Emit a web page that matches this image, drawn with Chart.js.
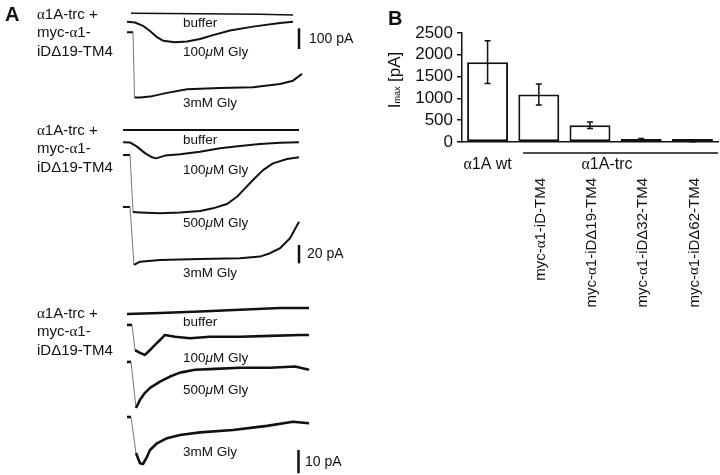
<!DOCTYPE html>
<html>
<head>
<meta charset="utf-8">
<script src="https://cdn.jsdelivr.net/npm/chart.js@4.4.1/dist/chart.umd.min.js"></script>
<style>
body { margin: 0; background: #fff; }
#fig { position: relative; width: 720px; height: 475px; overflow: hidden; font-family: "Liberation Sans", Arial, sans-serif; color: #111; }
canvas { position: absolute; }
.t { position: absolute; white-space: nowrap; transform: translateY(-50%); line-height: 1; }
.panel { font-weight: bold; font-size: 20px; }
.grp { position: absolute; white-space: nowrap; font-size: 15px; line-height: 18.5px; }
.tr { font-size: 13.5px; }
.sb { font-size: 14px; }
.a { font-family: "Liberation Serif", "DejaVu Serif", serif; }
</style>
</head>
<body>
<div id="fig">
  <canvas id="traces1" width="370" height="120" style="left:0;top:0"></canvas>
  <canvas id="traces2" width="370" height="170" style="left:0;top:120px"></canvas>
  <canvas id="traces3" width="370" height="185" style="left:0;top:290px"></canvas>
  <canvas id="chartB" width="340" height="475" style="left:380px;top:0"></canvas>

  <div class="t panel" style="left:5px;top:14px">A</div>
  <div class="t panel" style="left:388px;top:18px">B</div>

  <div class="grp" style="left:37px;top:4.75px"><span class="a">α</span>1A-trc +<br>myc-<span class="a">α</span>1-<br>iDΔ19-TM4</div>
  <div class="grp" style="left:37px;top:120.75px"><span class="a">α</span>1A-trc +<br>myc-<span class="a">α</span>1-<br>iDΔ19-TM4</div>
  <div class="grp" style="left:37px;top:303.75px"><span class="a">α</span>1A-trc +<br>myc-<span class="a">α</span>1-<br>iDΔ19-TM4</div>

  <div class="t tr" style="left:183px;top:23px">buffer</div>
  <div class="t tr" style="left:183px;top:52px">100<i>μ</i>M Gly</div>
  <div class="t tr" style="left:183px;top:103px">3mM Gly</div>

  <div class="t tr" style="left:183px;top:140px">buffer</div>
  <div class="t tr" style="left:183px;top:170px">100<i>μ</i>M Gly</div>
  <div class="t tr" style="left:183px;top:223px">500<i>μ</i>M Gly</div>
  <div class="t tr" style="left:183px;top:273px">3mM Gly</div>

  <div class="t tr" style="left:183px;top:322px">buffer</div>
  <div class="t tr" style="left:183px;top:358px">100<i>μ</i>M Gly</div>
  <div class="t tr" style="left:183px;top:390px">500<i>μ</i>M Gly</div>
  <div class="t tr" style="left:183px;top:452px">3mM Gly</div>

  <div class="t sb" style="left:309px;top:38px">100 pA</div>
  <div class="t sb" style="left:307px;top:253px">20 pA</div>
  <div class="t sb" style="left:305px;top:461px">10 pA</div>
</div>

<script>
// --- Panel A: tracce (tempo in s, corrente in pA) ---

// gruppo 1
const g1BufferT = [0.4, 7.3, 13.3, 16.6];
const g1BufferI = [3.4, 1.4, -1.4, -4.8];
const g1Gly100T = [0, 0.8, 1.6, 2.3, 3.0, 3.6, 4.8, 6.0, 7.3, 8.6, 10.3, 12.6, 15.3, 16.6];
const g1Gly100I = [0, -4, -20, -45, -75, -92, -100, -96, -84, -65, -43, -24, -6, 0];
const g1Gly3000T = [0, 0.6, 0.75, 1.3, 2.3, 4.0, 6.0, 9.3, 12.6, 15.3, 16.6, 17.5];
const g1Gly3000I = [0, 0, -315, -315, -311, -293, -275, -270, -266, -250, -234, -201];
const g1Offsets = [0, -37, -88];

// gruppo 2
const g2BufferT = [0, 8.8, 17.6];
const g2BufferI = [0, 0, 0];
const g2Gly100T = [0, 0.7, 1.4, 2.2, 2.9, 3.3, 4.2, 5.7, 7.7, 9.7, 11.7, 13.7, 15.7, 17.6];
const g2Gly100I = [0, -0.2, -4.7, -11.8, -16.4, -17.5, -14.5, -13.1, -10.2, -6.6, -4.0, -1.9, -0.4, 0];
const g2Gly500T = [0, 0.7, 1.0, 1.7, 3.7, 5.7, 7.7, 9.0, 10.4, 11.4, 12.2, 13.0, 14.0, 15.0, 16.4, 17.6];
const g2Gly500I = [0, 0, -62, -62.5, -63.5, -62.5, -61, -58.1, -53.3, -45.4, -36.3, -27.2, -16.4, -9.1, -4.3, -2.5];
const g2Gly3000T = [0, 0.7, 1.1, 1.7, 3.7, 7.7, 11.7, 13.7, 14.7, 15.7, 16.7, 17.6];
const g2Gly3000I = [0, 0, -63.2, -59.6, -57.8, -56.7, -55.9, -54.1, -50.4, -45, -34.1, -16];
const g2Offsets = [0, -13.4, -27.3, -83.9];

// gruppo 3
const g3BufferT = [0, 3.3, 7.3, 11.3, 15.3, 18.2];
const g3BufferI = [0, 0.4, 1.1, 1.8, 2.6, 2.6];
const g3Gly100T = [0, 0.5, 0.8, 1.3, 1.8, 2.3, 2.8, 3.3, 3.8, 4.8, 6.3, 8.3, 11.3, 14.3, 17.3, 18.2];
const g3Gly100I = [0, 0, -10.8, -12, -12.9, -10.8, -8.6, -6.5, -4.3, -5.1, -5.7, -5.1, -5.1, -4.7, -4.3, -4.3];
const g3Gly500T = [0, 0.4, 0.9, 1.3, 1.8, 2.3, 3.3, 4.3, 5.3, 6.8, 8.8, 11.3, 14.3, 16.8, 18.2];
const g3Gly500I = [0, 0, -19.8, -16.3, -13.3, -11.2, -8.5, -6.3, -4.6, -3.4, -3.0, -2.5, -2.5, -2.0, -3.4];
const g3Gly3000T = [0, 0.4, 0.9, 1.3, 1.6, 2.0, 2.3, 3.0, 4.0, 5.3, 7.3, 10.6, 14.0, 16.6, 18.2];
const g3Gly3000I = [0, 0, -15.5, -19.9, -20.2, -17.1, -14.2, -11.3, -9.1, -7.7, -6.6, -5.6, -3.8, -2.0, -2.7];
const g3Offsets = [0, -4.7, -20.6, -44.3];

// barre di scala (pA)
const scaleBarValues = [100, 20, 10];

// --- Panel B: Imax ---
const constructs = ['α1A wt', 'myc-α1-iD-TM4', 'myc-α1-iDΔ19-TM4', 'myc-α1-iDΔ32-TM4', 'myc-α1-iDΔ62-TM4'];
const imax = [1830, 1090, 385, 50, 20];
const imaxErr = [490, 240, 75, 30, 15];
const trcLabel = 'α1A-trc';

const SANS = '"Liberation Sans", Arial, sans-serif';
const SERIF = '"Liberation Serif", "DejaVu Serif", serif';
const INK = '#111';

// segmento ripido (salto iniziale) disegnato sottile
function isJump(ctx) {
    const dx = Math.abs(ctx.p1.x - ctx.p0.x);
    const dy = Math.abs(ctx.p1.y - ctx.p0.y);
    return dy > 10 && dy > 3 * dx;
}

const scaleBarPlugin = {
    id: 'scaleBar',
    afterDraw(chart, args, opts) {
        const y = chart.scales.y;
        const len = Math.abs(y.getPixelForValue(0) - y.getPixelForValue(opts.value));
        const ctx = chart.ctx;
        ctx.save();
        ctx.fillStyle = INK;
        ctx.fillRect(opts.x - 1.25, opts.top, 2.5, len);
        ctx.restore();
    }
};

function makeTrace(t, i, offset, width) {
    return {
        data: t.map((tt, k) => ({ x: tt, y: i[k] + offset })),
        showLine: true,
        pointRadius: 0,
        borderColor: INK,
        borderWidth: width,
        borderJoinStyle: 'round',
        segment: {
            borderWidth: ctx => isJump(ctx) ? 0.8 : width,
            borderColor: ctx => isJump(ctx) ? '#555' : INK
        }
    };
}

// t0Px: pixel del tempo 0, basePx: pixel della linea di base della prima traccia
function traceChart(canvasId, datasets, t0Px, pAPerPx, basePx, bar) {
    const canvas = document.getElementById(canvasId);
    const w = canvas.width, h = canvas.height;
    const pxPerSec = 10;
    const yMax = basePx * pAPerPx;
    return new Chart(canvas, {
        type: 'scatter',
        data: { datasets: datasets },
        options: {
            responsive: false,
            animation: false,
            events: [],
            layout: { padding: 0, autoPadding: false },
            scales: {
                x: { type: 'linear', display: false, min: -t0Px / pxPerSec, max: (w - t0Px) / pxPerSec },
                y: { type: 'linear', display: false, min: yMax - h * pAPerPx, max: yMax }
            },
            plugins: {
                legend: { display: false },
                tooltip: { enabled: false },
                scaleBar: bar
            }
        },
        plugins: [scaleBarPlugin]
    });
}

traceChart('traces1', [
    makeTrace(g1BufferT, g1BufferI, g1Offsets[0], 1.4),
    makeTrace(g1Gly100T, g1Gly100I, g1Offsets[1], 2),
    makeTrace(g1Gly3000T, g1Gly3000I, g1Offsets[2], 2)
], 127, 4.83, 14, { value: scaleBarValues[0], x: 299, top: 28.3 });

traceChart('traces2', [
    makeTrace(g2BufferT, g2BufferI, g2Offsets[0], 2),
    makeTrace(g2Gly100T, g2Gly100I, g2Offsets[1], 2),
    makeTrace(g2Gly500T, g2Gly500I, g2Offsets[2], 2),
    makeTrace(g2Gly3000T, g2Gly3000I, g2Offsets[3], 2)
], 123, 1.09, 10, { value: scaleBarValues[1], x: 299, top: 125 });

traceChart('traces3', [
    makeTrace(g3BufferT, g3BufferI, g3Offsets[0], 2.6),
    makeTrace(g3Gly100T, g3Gly100I, g3Offsets[1], 2.6),
    makeTrace(g3Gly500T, g3Gly500I, g3Offsets[2], 2.6),
    makeTrace(g3Gly3000T, g3Gly3000I, g3Offsets[3], 2.6)
], 127, 0.43, 24, { value: scaleBarValues[2], x: 298.5, top: 160 });

// testo con alfa in serif
function alphaRuns(text, size) {
    const runs = [];
    text.split(/(α)/).forEach(part => {
        if (!part) return;
        runs.push([part, `${size}px ${part === 'α' ? SERIF : SANS}`, 0]);
    });
    return runs;
}

function drawRuns(ctx, runs, x, y, align) {
    let total = 0;
    runs.forEach(r => { ctx.font = r[1]; total += ctx.measureText(r[0]).width; });
    let cx = align === 'center' ? x - total / 2 : align === 'right' ? x - total : x;
    ctx.textAlign = 'left';
    runs.forEach(r => {
        ctx.font = r[1];
        ctx.fillText(r[0], cx, y + (r[2] || 0));
        cx += ctx.measureText(r[0]).width;
    });
}

const panelBText = {
    id: 'panelBText',
    afterDatasetsDraw(chart) {
        const ctx = chart.ctx, y = chart.scales.y;
        const meta = chart.getDatasetMeta(0);
        ctx.save();
        ctx.strokeStyle = INK;
        ctx.lineWidth = 1.5;
        imax.forEach((v, i) => {
            const px = meta.data[i].x;
            const top = y.getPixelForValue(v + imaxErr[i]);
            const bot = y.getPixelForValue(Math.max(v - imaxErr[i], 0));
            ctx.beginPath();
            ctx.moveTo(px, top); ctx.lineTo(px, bot);
            ctx.moveTo(px - 3, top); ctx.lineTo(px + 3, top);
            ctx.moveTo(px - 3, bot); ctx.lineTo(px + 3, bot);
            ctx.stroke();
        });
        ctx.restore();
    },
    afterDraw(chart) {
        const ctx = chart.ctx, x = chart.scales.x, area = chart.chartArea;
        ctx.save();
        ctx.fillStyle = INK;
        ctx.strokeStyle = INK;
        ctx.textBaseline = 'middle';

        drawRuns(ctx, alphaRuns(constructs[0], 16), x.getPixelForValue(0), 165, 'center');

        const lineStart = (x.getPixelForValue(0) + x.getPixelForValue(1)) / 2 + 10;
        ctx.lineWidth = 1.5;
        ctx.beginPath();
        ctx.moveTo(lineStart, 153);
        ctx.lineTo(area.right, 153);
        ctx.stroke();
        drawRuns(ctx, alphaRuns(trcLabel, 16), x.getPixelForValue(2) + 17, 165, 'center');

        for (let i = 1; i < constructs.length; i++) {
            ctx.save();
            ctx.translate(x.getPixelForValue(i) + 2, 178);
            ctx.rotate(-Math.PI / 2);
            drawRuns(ctx, alphaRuns(constructs[i], 15), 0, 0, 'right');
            ctx.restore();
        }

        // titolo asse y: I_max [pA]
        ctx.save();
        ctx.translate(15, 80);
        ctx.rotate(-Math.PI / 2);
        drawRuns(ctx, [
            ['I', `17px ${SANS}`, 0],
            ['max', `9px ${SANS}`, 3],
            [' [pA]', `17px ${SANS}`, 0]
        ], 0, 0, 'center');
        ctx.restore();
        ctx.restore();
    }
};

new Chart(document.getElementById('chartB'), {
    type: 'bar',
    data: {
        labels: constructs,
        datasets: [{
            data: imax,
            backgroundColor: '#fff',
            borderColor: INK,
            borderWidth: 2,
            borderSkipped: false,
            minBarLength: 3,
            barPercentage: 0.8,
            categoryPercentage: 1
        }]
    },
    options: {
        responsive: false,
        animation: false,
        events: [],
        layout: { padding: { top: 33, right: 2, left: 0, bottom: 0 } },
        scales: {
            x: {
                grid: { display: false },
                border: { display: true, color: INK, width: 1.5 },
                ticks: { display: false },
                afterFit: s => { s.height = 333; }
            },
            y: {
                min: 0,
                max: 2500,
                ticks: {
                    stepSize: 500,
                    autoSkip: false,
                    color: INK,
                    padding: 4,
                    font: { family: SANS, size: 17 },
                    callback: v => String(v)
                },
                grid: { drawOnChartArea: false, drawTicks: true, tickLength: 5, color: INK, lineWidth: 1.5 },
                border: { display: true, color: INK, width: 1.5 },
                afterFit: s => { s.width = 82; }
            }
        },
        plugins: {
            legend: { display: false },
            tooltip: { enabled: false }
        }
    },
    plugins: [panelBText]
});
</script>
</body>
</html>
